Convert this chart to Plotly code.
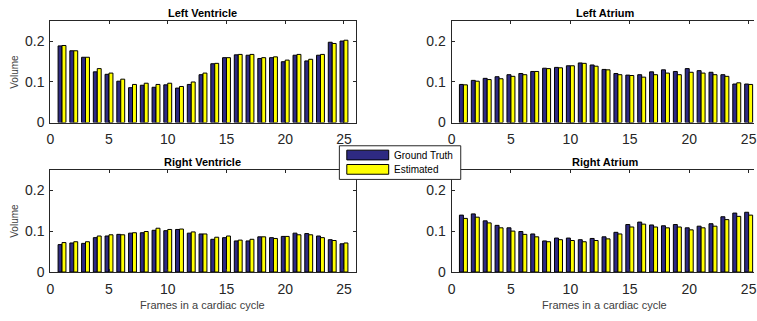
import plotly.graph_objects as go

frames = list(range(1, 26))

lv_gt = [0.189, 0.177, 0.161, 0.125, 0.119, 0.102, 0.086, 0.092, 0.087, 0.093, 0.085, 0.094, 0.118,
         0.145, 0.160, 0.167, 0.166, 0.158, 0.160, 0.150, 0.166, 0.152, 0.166, 0.198, 0.201]
lv_est = [0.190, 0.177, 0.161, 0.133, 0.122, 0.107, 0.094, 0.097, 0.094, 0.097, 0.089, 0.100, 0.122,
          0.146, 0.160, 0.168, 0.168, 0.160, 0.162, 0.154, 0.168, 0.156, 0.168, 0.195, 0.203]

la_gt = [0.094, 0.104, 0.109, 0.113, 0.118, 0.121, 0.126, 0.134, 0.136, 0.140, 0.147, 0.142, 0.131,
         0.121, 0.117, 0.118, 0.125, 0.130, 0.126, 0.133, 0.128, 0.124, 0.118, 0.095, 0.095]
la_est = [0.093, 0.102, 0.106, 0.108, 0.114, 0.118, 0.126, 0.133, 0.135, 0.140, 0.146, 0.139, 0.130,
          0.118, 0.116, 0.112, 0.118, 0.122, 0.118, 0.124, 0.122, 0.118, 0.114, 0.098, 0.094]

rv_gt = [0.067, 0.071, 0.070, 0.084, 0.088, 0.092, 0.095, 0.096, 0.102, 0.101, 0.104, 0.095, 0.093,
         0.080, 0.084, 0.076, 0.076, 0.086, 0.084, 0.087, 0.095, 0.094, 0.088, 0.079, 0.069]
rv_est = [0.072, 0.074, 0.074, 0.088, 0.091, 0.091, 0.096, 0.099, 0.107, 0.104, 0.105, 0.098, 0.093,
          0.085, 0.088, 0.078, 0.080, 0.086, 0.082, 0.087, 0.091, 0.091, 0.084, 0.077, 0.071]

ra_gt = [0.139, 0.142, 0.125, 0.114, 0.108, 0.099, 0.093, 0.076, 0.083, 0.083, 0.079, 0.082, 0.086,
         0.097, 0.116, 0.122, 0.115, 0.113, 0.116, 0.108, 0.112, 0.118, 0.135, 0.144, 0.146]
ra_est = [0.131, 0.134, 0.120, 0.108, 0.100, 0.092, 0.086, 0.074, 0.079, 0.077, 0.074, 0.077, 0.081,
          0.093, 0.110, 0.117, 0.110, 0.108, 0.110, 0.103, 0.108, 0.112, 0.128, 0.136, 0.139]

titles = ["Left Ventricle", "Left Atrium", "Right Ventricle", "Right Atrium"]
series_names = ["Ground Truth", "Estimated"]
x_ticks = [0, 5, 10, 15, 20, 25]
y_ticks = [0, 0.1, 0.2]

NAVY = "#2e2a82"
YELLOW = "#ffff00"
AXC = "#262626"
FONT = "Liberation Sans, Arial, Helvetica, sans-serif"
W, H = 757, 321

panels = [
    (lv_gt, lv_est, "x", "y"),
    (la_gt, la_est, "x2", "y2"),
    (rv_gt, rv_est, "x3", "y3"),
    (ra_gt, ra_est, "x4", "y4"),
]

fig = go.Figure()
for i, (gt, est, xa, ya) in enumerate(panels):
    fig.add_trace(go.Bar(x=frames, y=gt, name=series_names[0], xaxis=xa, yaxis=ya,
                         marker=dict(color=NAVY, line=dict(color="black", width=1)),
                         offsetgroup="gt", showlegend=False))
    fig.add_trace(go.Bar(x=frames, y=est, name=series_names[1], xaxis=xa, yaxis=ya,
                         marker=dict(color=YELLOW, line=dict(color="black", width=1)),
                         offsetgroup="est", showlegend=False))

# pixel geometry
L_x = (46.7 / W, 355.0 / W)
R_x = (451.7 / W, 1.0)
T_y = (1 - 125.7 / H, 1 - 21.7 / H)
B_y = (1 - 279.0 / H, 1 - 174.0 / H)

def xaxis(dom, anchor, rng):
    return dict(domain=dom, anchor=anchor, range=rng, tickvals=x_ticks, ticks="inside", ticklen=3,
                tickcolor=AXC, showline=True, linecolor=AXC, linewidth=1, mirror="ticks",
                showgrid=False, zeroline=False, ticklabelstandoff=4, ticklabeloverflow="allow",
                tickfont=dict(size=14, color=AXC, family=FONT))

def yaxis(dom, anchor, mirror):
    return dict(domain=dom, anchor=anchor, range=[0, 0.25], tickvals=y_ticks, ticks="inside",
                ticklen=3, tickcolor=AXC, showline=True, linecolor=AXC, linewidth=1, mirror=mirror,
                showgrid=False, zeroline=False, ticklabelstandoff=2, ticklabeloverflow="allow",
                tickfont=dict(size=14, color=AXC, family=FONT))

right_max = 25.45
fig.update_layout(
    width=W, height=H,
    margin=dict(l=0, r=0, t=0, b=0),
    paper_bgcolor="white", plot_bgcolor="white",
    font=dict(family=FONT, color=AXC),
    barmode="group", bargap=0.33, bargroupgap=0,
    showlegend=False,
    xaxis=xaxis(L_x, "y", [0, 26]),
    yaxis=yaxis(T_y, "x", "ticks"),
    xaxis2=xaxis(R_x, "y2", [0, right_max]),
    yaxis2=yaxis(T_y, "x2", False),
    xaxis3=xaxis(L_x, "y3", [0, 26]),
    yaxis3=yaxis(B_y, "x3", "ticks"),
    xaxis4=xaxis(R_x, "y4", [0, right_max]),
    yaxis4=yaxis(B_y, "x4", False),
)

def px(xp):
    return xp / W

def py(yp):
    return 1 - yp / H

ann = []
shapes = []
title_pos = [((46.7 + 355) / 2, 13), ((451.7 + 762) / 2, 13), ((46.7 + 355) / 2, 166.5), ((451.7 + 762) / 2, 166.5)]
for t, (tx, ty) in zip(titles, title_pos):
    ann.append(dict(text="<b>" + t + "</b>", x=px(tx), y=py(ty), xref="paper", yref="paper",
                    showarrow=False, xanchor="center", yanchor="middle",
                    font=dict(size=11, color="black", family=FONT)))
for cy in [(21.7 + 125.7) / 2, (174 + 279) / 2]:
    ann.append(dict(text="Volume", x=px(11), y=py(cy), xref="paper", yref="paper",
                    showarrow=False, textangle=-90, xanchor="center", yanchor="middle",
                    font=dict(size=10, color="#404040", family=FONT)))
for cx in [200.5, 606.5]:
    ann.append(dict(text="Frames in a cardiac cycle", x=px(cx), y=py(313), xref="paper", yref="paper",
                    showarrow=False, xanchor="center", yanchor="middle",
                    font=dict(size=11, color="#404040", family=FONT)))

# legend box (drawn as decoration)
shapes.append(dict(type="rect", xref="paper", yref="paper", x0=px(338.5), x1=px(461), y0=py(184), y1=py(149.5),
                   fillcolor="white", line=dict(color=AXC, width=1), layer="above"))
for name, col, cy in [(series_names[0], NAVY, 159), (series_names[1], YELLOW, 173.7)]:
    shapes.append(dict(type="rect", xref="paper", yref="paper", x0=px(346), x1=px(388.3),
                       y0=py(cy + 5), y1=py(cy - 5), fillcolor=col, line=dict(color="black", width=1),
                       layer="above"))
    ann.append(dict(text=name, x=px(391.5), y=py(cy), xref="paper", yref="paper", showarrow=False,
                    xanchor="left", yanchor="middle", font=dict(size=10, color="black", family=FONT)))

fig.update_layout(annotations=ann, shapes=shapes)

fig.write_html("out.html", config={"displayModeBar": False, "staticPlot": True},
               post_script="document.body.style.margin='0';document.body.style.overflow='hidden';")
